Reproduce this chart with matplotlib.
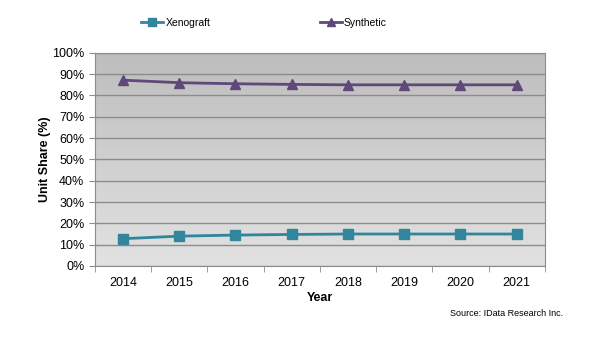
import numpy as np
import matplotlib.pyplot as plt
from matplotlib.colors import LinearSegmentedColormap
from matplotlib.ticker import FixedLocator

plt.rcParams['font.family'] = ['Liberation Sans', 'DejaVu Sans']

years = ['2014', '2015', '2016', '2017', '2018', '2019', '2020', '2021']
xenograft = [12.8, 14.0, 14.5, 14.8, 15.0, 15.0, 15.0, 15.0]
synthetic = [87.2, 86.0, 85.5, 85.2, 85.0, 85.0, 85.0, 85.0]

fig = plt.figure(figsize=(6, 3.41), dpi=100)
ax = fig.add_axes([0.158, 0.22, 0.75, 0.625])

# gradient background, darker at top
bg = LinearSegmentedColormap.from_list('bg', ['#bdbdbd', '#e2e2e2'])
grad = np.linspace(0, 1, 256).reshape(-1, 1)
ax.imshow(grad, extent=[-0.5, 7.5, 0, 100], aspect='auto', cmap=bg,
          origin='upper', zorder=0)

x = np.arange(len(years))
ax.plot(x, xenograft, color='#31859C', marker='s', markersize=6.5, lw=2, label='Xenograft', zorder=3)
ax.plot(x, synthetic, color='#5F497A', marker='^', markersize=7, lw=2, label='Synthetic', zorder=3)

ax.set_xlim(-0.5, 7.5)
ax.set_ylim(0, 100)
ax.set_yticks(range(0, 101, 10))
ax.set_yticklabels([f'{v}%' for v in range(0, 101, 10)], fontsize=9)
ax.yaxis.grid(True, color='#8c8c8c', lw=1)
ax.set_axisbelow(False)
ax.set_xticks(x)
ax.set_xticklabels(years, fontsize=9)
ax.tick_params(axis='x', which='major', length=0, pad=8)
ax.xaxis.set_minor_locator(FixedLocator(np.arange(-0.5, 8, 1)))
ax.tick_params(axis='x', which='minor', length=4, color='#8c8c8c')
ax.tick_params(axis='y', length=4, color='#8c8c8c')
for s in ax.spines.values():
    s.set_color('#8c8c8c')

ax.set_xlabel('Year', fontsize=9, fontweight='bold', labelpad=2)
ax.set_ylabel('Unit Share (%)', fontsize=9, fontweight='bold', labelpad=1)

fig.legend(loc='upper center', bbox_to_anchor=(0.44, 0.975), ncol=2, frameon=False,
           fontsize=7.5, columnspacing=10.5, handlelength=2.1, handletextpad=0.2,
           markerscale=0.85)
fig.text(0.938, 0.072, 'Source: IData Research Inc.', fontsize=6.5, ha='right')

fig.savefig('out.png', dpi=100)
